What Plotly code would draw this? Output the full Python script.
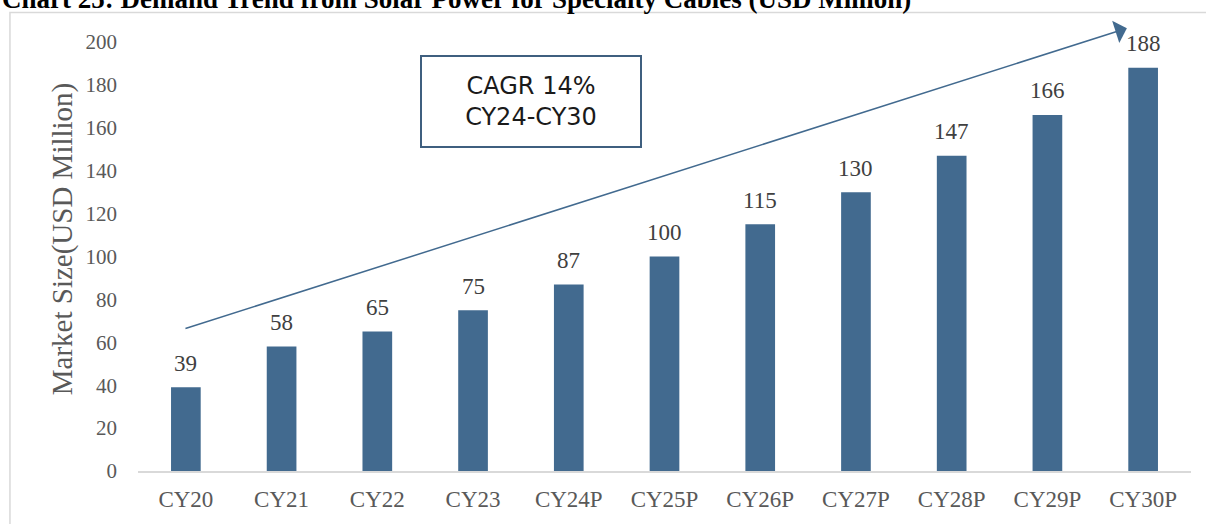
import plotly.graph_objects as go

categories = ["CY20", "CY21", "CY22", "CY23", "CY24P", "CY25P", "CY26P", "CY27P", "CY28P", "CY29P", "CY30P"]
values = [39, 58, 65, 75, 87, 100, 115, 130, 147, 166, 188]
y_ticks = [0, 20, 40, 60, 80, 100, 120, 140, 160, 180, 200]

title_text = "Chart 25: Demand Trend from Solar Power for Specialty Cables (USD Million)"
cagr_text = "CAGR 14%<br>CY24-CY30"
y_title = "Market Size(USD Million)"

bar_color = "#426A8F"

fig = go.Figure()
fig.add_trace(go.Bar(
    x=categories, y=values, width=0.31,
    marker=dict(color=bar_color, line=dict(width=0)),
))

for c, v in zip(categories, values):
    fig.add_annotation(x=c, y=v, xref="x", yref="y", text=str(v), showarrow=False,
                       yanchor="middle", yshift=24,
                       font=dict(family="Liberation Serif", size=23, color="#404040"))

fig.update_layout(
    width=1206, height=524,
    margin=dict(l=138, r=15, t=42, b=47),
    paper_bgcolor="white", plot_bgcolor="white",
    showlegend=False,
    xaxis=dict(
        type="category", range=[-0.5, 10.5],
        showline=True, linecolor="#d9d9d9", linewidth=1.5,
        showgrid=False, ticks="", ticklabelstandoff=7,
        tickfont=dict(family="Liberation Serif", size=23, color="#595959"),
    ),
    yaxis=dict(
        range=[0, 200], tickvals=y_ticks, showgrid=False, zeroline=False,
        showline=False, ticks="", ticklabelstandoff=20,
        tickfont=dict(family="Liberation Serif", size=21, color="#595959"),
    ),
)

# y-axis title
fig.add_annotation(x=-0.0722, y=0.5425, xref="paper", yref="paper", xanchor="center", yanchor="middle",
                   text=y_title, textangle=-90, showarrow=False,
                   font=dict(family="Liberation Serif", size=29, color="#595959"))

# outer chart border
fig.add_shape(type="rect", xref="paper", yref="paper",
              x0=-0.1216, x1=1.02, y0=-0.2, y1=1.069,
              line=dict(color="#d9d9d9", width=1.5), fillcolor="rgba(0,0,0,0)", layer="below")

# trend arrow
fig.add_annotation(x=9.83, y=206.4, ax=-0.02, ay=66.2, xref="x", yref="y", axref="x", ayref="y",
                   showarrow=True, arrowhead=1, arrowsize=2.6, arrowwidth=1.5, arrowcolor=bar_color, text="")

# CAGR box
fig.add_annotation(x=0.3735, y=0.862, xref="paper", yref="paper", xanchor="center", yanchor="middle",
                   text=cagr_text, showarrow=False,
                   font=dict(family="DejaVu Sans", size=24, color="#1a1a1a"),
                   bordercolor="#3F5F7F", borderwidth=2, borderpad=0, bgcolor="white",
                   width=218, height=89)

# title (clipped at top)
fig.add_annotation(x=-0.131, y=1.1, xref="paper", yref="paper", xanchor="left", yanchor="middle",
                   text="<b>" + title_text + "</b>", showarrow=False,
                   font=dict(family="Liberation Serif", size=27, color="black"))

fig.write_html("out.html", config={"displayModeBar": False},
               post_script="document.body.style.margin='0';")
